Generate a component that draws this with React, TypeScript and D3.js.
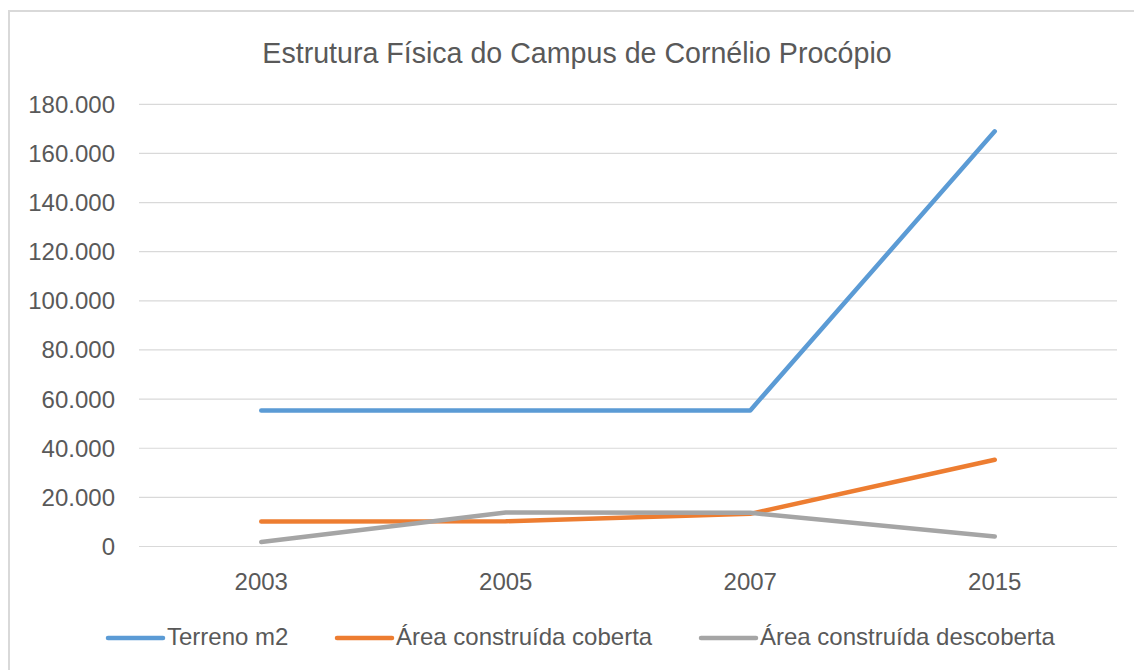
import React from "react";
import * as d3 from "d3";

const title = "Estrutura Física do Campus de Cornélio Procópio";
const categories = ["2003", "2005", "2007", "2015"];
const yTicks = [0, 20000, 40000, 60000, 80000, 100000, 120000, 140000, 160000, 180000];
const seriesNames = ["Terreno m2", "Área construída coberta", "Área construída descoberta"];
const terreno = [55400, 55400, 55400, 169000];
const coberta = [10200, 10300, 13300, 35300];
const descoberta = [1800, 13800, 13700, 4100];
const colors = ["#5B9BD5", "#ED7D31", "#A5A5A5"];

const W = 1134;
const H = 670;
const plot = { left: 139, right: 1117, top: 104.3, bottom: 546.5 };
const legendX = [108, 337, 701];
const font = "'Liberation Sans', Arial, sans-serif";

export default function App() {
  const x = d3.scaleBand<string>().domain(categories).range([plot.left, plot.right]);
  const y = d3.scaleLinear().domain([0, 180000]).range([plot.bottom, plot.top]);
  const fmt = (v: number) => (v === 0 ? "0" : d3.format(",.3f")(v / 1000).replace(/,/g, "."));
  const line = d3
    .line<number>()
    .x((_, i) => (x(categories[i]) as number) + x.bandwidth() / 2)
    .y((d) => y(d));
  const series = [terreno, coberta, descoberta];

  return (
    <svg
      width={W}
      height={H}
      style={{ position: "absolute", left: 0, top: 0, background: "#fff" }}
      fontFamily={font}
    >
      <rect x={9} y={11} width={W + 10} height={H + 10} fill="#fff" stroke="#D9D9D9" strokeWidth={2} />
      <text x={577} y={63} textAnchor="middle" fontSize={28.6} fill="#595959">
        {title}
      </text>
      {yTicks.map((t) => (
        <g key={t}>
          <line x1={plot.left} x2={plot.right} y1={y(t)} y2={y(t)} stroke="#D9D9D9" strokeWidth={1.2} />
          <text x={115} y={y(t)} dy="0.35em" textAnchor="end" fontSize={24} fill="#595959">
            {fmt(t)}
          </text>
        </g>
      ))}
      {categories.map((c) => (
        <text
          key={c}
          x={(x(c) as number) + x.bandwidth() / 2}
          y={590}
          textAnchor="middle"
          fontSize={24}
          fill="#595959"
        >
          {c}
        </text>
      ))}
      {series.map((s, i) => (
        <path
          key={i}
          d={line(s) as string}
          fill="none"
          stroke={colors[i]}
          strokeWidth={4.5}
          strokeLinecap="round"
          strokeLinejoin="round"
        />
      ))}
      {seriesNames.map((n, i) => (
        <g key={n}>
          <line
            x1={legendX[i]}
            x2={legendX[i] + 55}
            y1={638}
            y2={638}
            stroke={colors[i]}
            strokeWidth={4.5}
            strokeLinecap="round"
          />
          <text x={legendX[i] + 59} y={645} fontSize={24} fill="#595959">
            {n}
          </text>
        </g>
      ))}
    </svg>
  );
}
